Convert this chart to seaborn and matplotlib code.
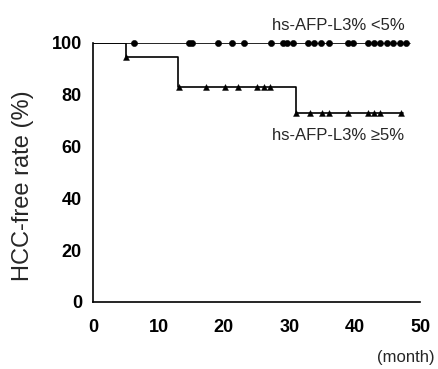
import matplotlib
matplotlib.use("Agg")
import matplotlib.pyplot as plt
import seaborn as sns
import pandas as pd

# Step curves (time in months, HCC-free rate %)
low_time = [0, 48.5]
low_rate = [100, 100]
high_time = [0, 5, 13, 31, 47.4]
high_rate = [100, 94.4, 83.0, 73.1, 73.1]

# Censor marks
low_cens_time = [6.2, 14.7, 15.2, 19.1, 21.2, 23.1, 27.2, 29.0, 29.7, 30.5, 32.9, 33.8,
                 34.8, 36.0, 38.9, 39.7, 42.0, 43.0, 43.9, 45.0, 45.9, 46.9, 47.9]
high_cens_time = [5.1, 13.2, 17.2, 20.1, 22.1, 25.1, 26.1, 27.1, 31.0, 33.1, 35.0, 36.1,
                  39.0, 42.0, 43.0, 43.9, 47.1]
high_cens_rate = [94.4, 83.0, 83.0, 83.0, 83.0, 83.0, 83.0, 83.0, 73.1, 73.1, 73.1, 73.1,
                  73.1, 73.1, 73.1, 73.1, 73.1]

sns.set_style("white")
plt.rcParams['font.family'] = ['Liberation Sans', 'DejaVu Sans']

fig = plt.figure(figsize=(4.39, 3.69), dpi=100)
ax = fig.add_axes([0.212, 0.1816, 0.745, 0.7019])

df_low = pd.DataFrame({"t": low_time, "r": low_rate})
df_high = pd.DataFrame({"t": high_time, "r": high_rate})
sns.lineplot(data=df_low, x="t", y="r", drawstyle="steps-post", color="black", lw=1.2, ax=ax)
sns.lineplot(data=df_high, x="t", y="r", drawstyle="steps-post", color="black", lw=1.2, ax=ax)

df_lc = pd.DataFrame({"t": low_cens_time, "r": [100] * len(low_cens_time)})
df_hc = pd.DataFrame({"t": high_cens_time, "r": high_cens_rate})
sns.scatterplot(data=df_lc, x="t", y="r", marker="o", s=20, color="black", edgecolor="black",
                ax=ax, clip_on=False, zorder=3)
sns.scatterplot(data=df_hc, x="t", y="r", marker="^", s=18, color="black", edgecolor="black",
                ax=ax, clip_on=False, zorder=3)

ax.set_xlim(0, 50)
ax.set_ylim(0, 100)
ax.set_xticks([0, 10, 20, 30, 40, 50])
ax.set_yticks([0, 20, 40, 60, 80, 100])
ax.tick_params(direction="in", length=3, width=1, labelsize=13, colors="black")
ax.tick_params(axis="x", pad=12)
ax.tick_params(axis="y", pad=8)
for lab in ax.get_xticklabels() + ax.get_yticklabels():
    lab.set_fontweight("bold")
for s in ["top", "right"]:
    ax.spines[s].set_visible(False)
for s in ["left", "bottom"]:
    ax.spines[s].set_color("black")
    ax.spines[s].set_linewidth(1.2)

ax.set_xlabel("")
ax.set_ylabel("HCC-free rate (%)", fontsize=17)
ax.yaxis.set_label_coords(-0.18, 0.45)

fig.text(0.923, 0.932, "hs-AFP-L3% <5%", fontsize=12, ha="right", va="center")
fig.text(0.92, 0.632, "hs-AFP-L3% \u22655%", fontsize=12, ha="right", va="center")
fig.text(0.99, 0.030, "(month)", fontsize=12, ha="right", va="center")

fig.savefig("out.png", dpi=100)
